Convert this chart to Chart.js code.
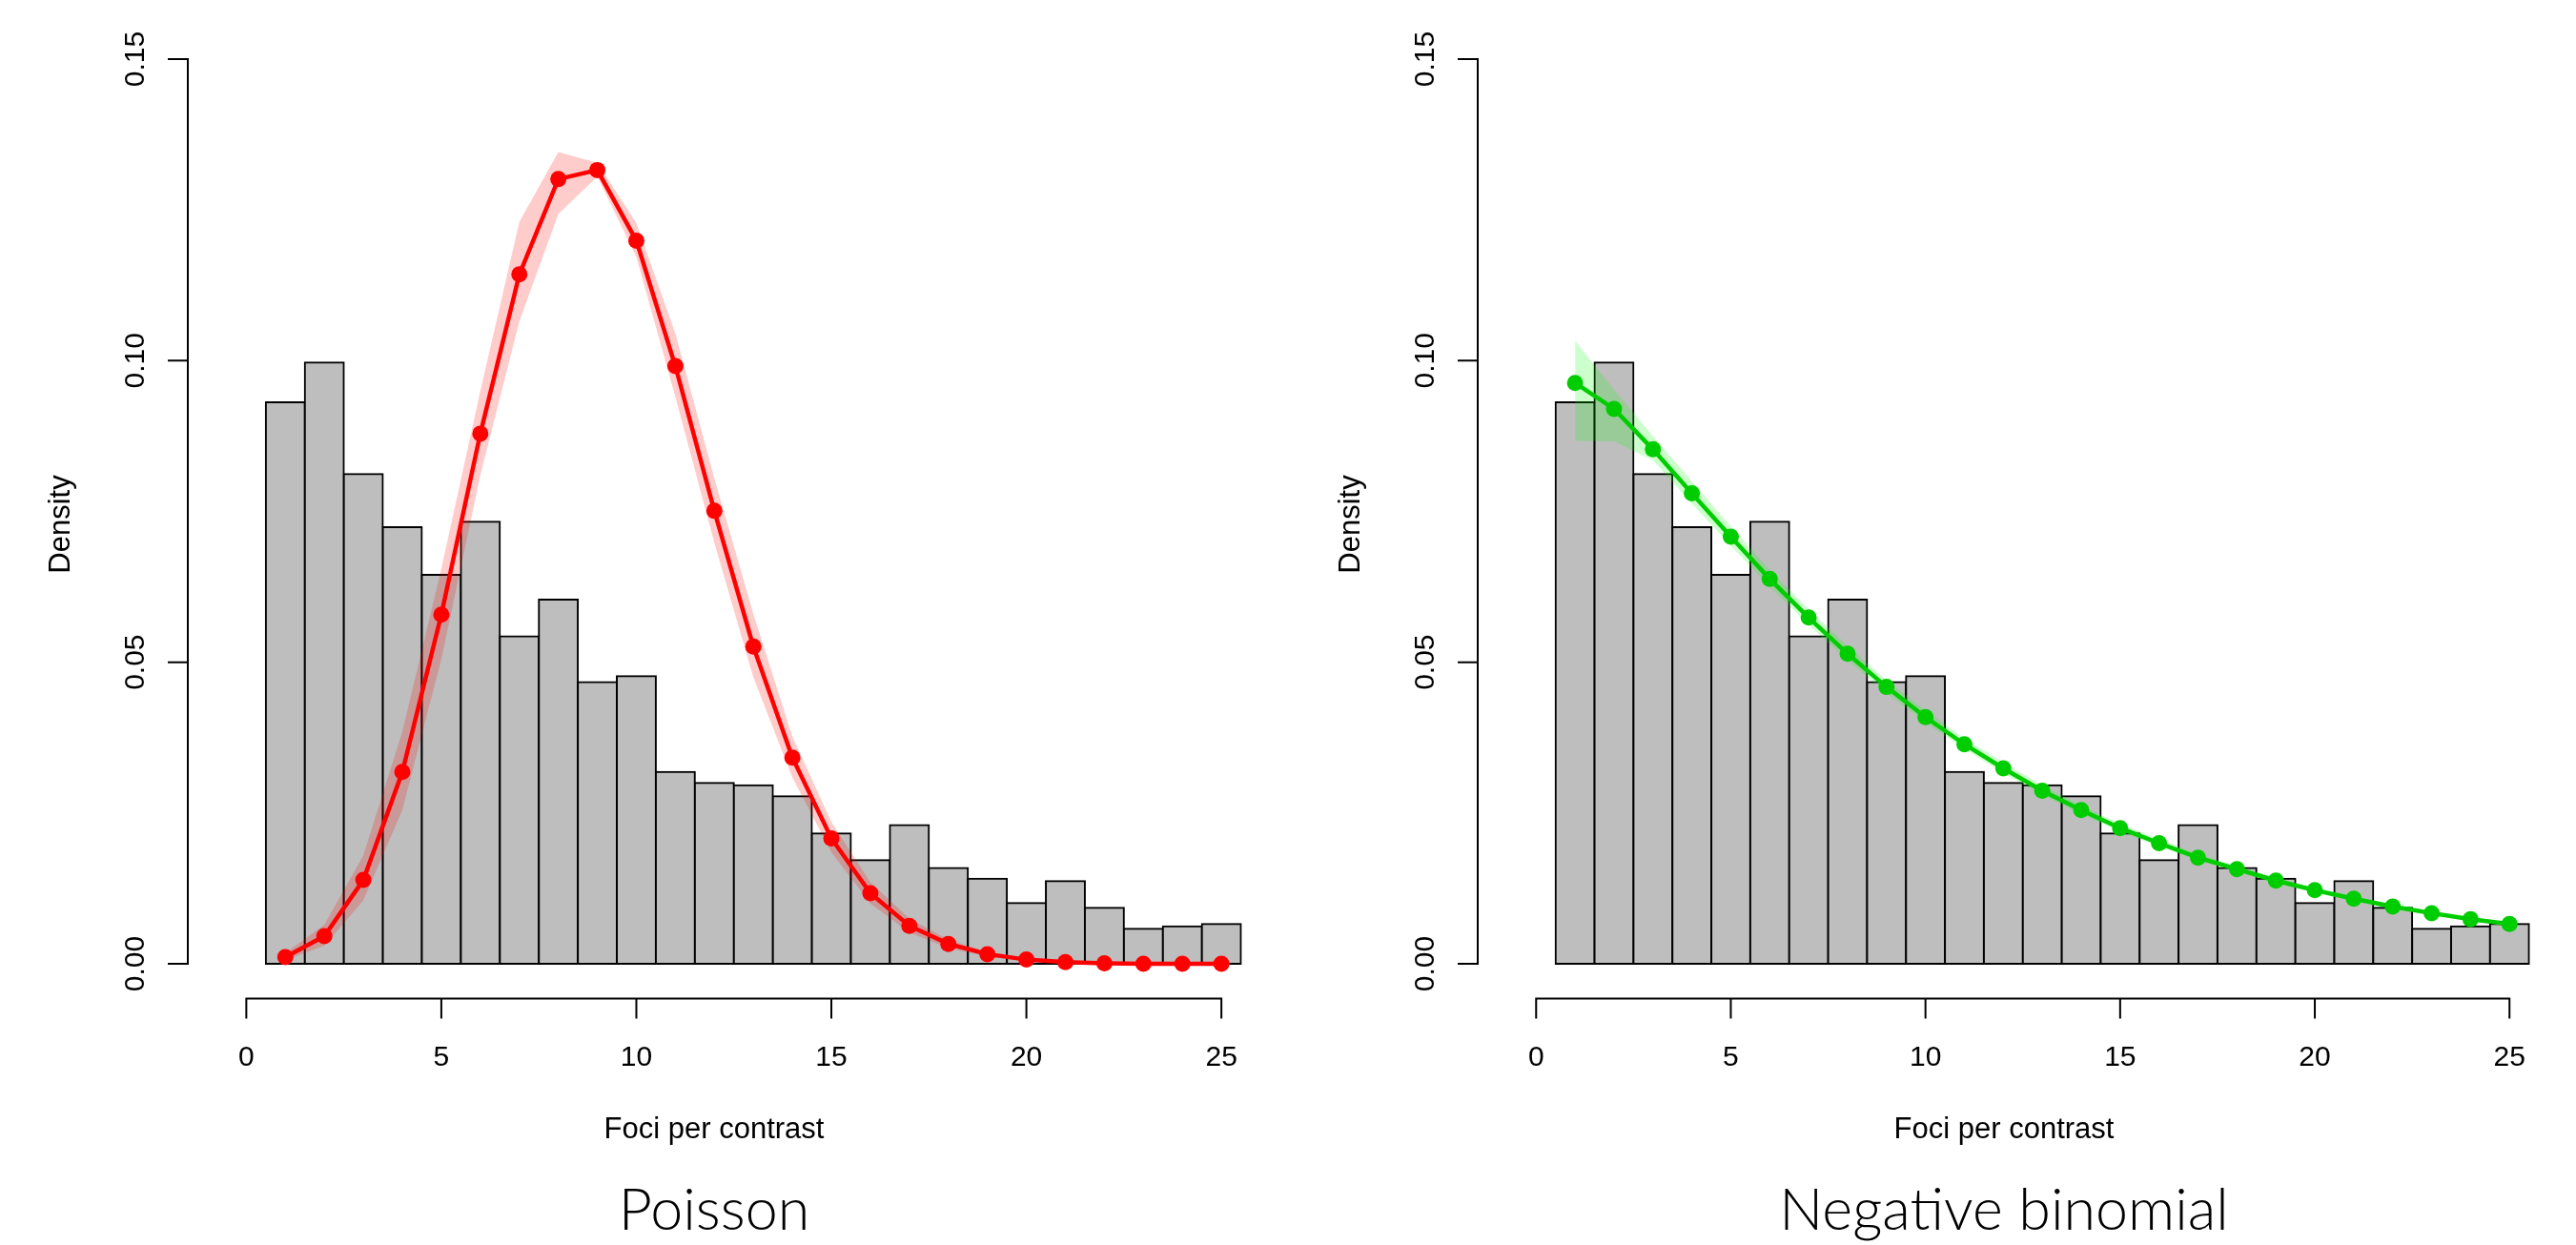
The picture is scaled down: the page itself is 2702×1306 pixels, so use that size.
<!DOCTYPE html>
<html>
<head>
<meta charset="utf-8">
<script src="https://cdn.jsdelivr.net/npm/chart.js@4.4.1/dist/chart.umd.min.js"></script>
<style>
  html, body { margin: 0; padding: 0; background: #fff; overflow: hidden; }
  #wrap { position: relative; width: 2702px; height: 1306px; }
  canvas { position: absolute; top: 0; }
</style>
</head>
<body>
<div id="wrap">
  <canvas id="poissonChart" width="1351" height="1306" style="left:0"></canvas>
  <canvas id="negbinChart" width="1351" height="1306" style="left:1351px"></canvas>
</div>
<script>
// foci per contrast (bins centred on integers)
const foci = [1, 2, 3, 4, 5, 6, 7, 8, 9, 10, 11, 12, 13, 14, 15, 16, 17, 18, 19, 20, 21, 22, 23, 24, 25];

// observed histogram (density)
const histDensity = [0.0931, 0.0997, 0.0812, 0.0724, 0.0645, 0.0733, 0.0543, 0.0604, 0.0467, 0.0477,
  0.0318, 0.0300, 0.0296, 0.0278, 0.0216, 0.0172, 0.0230, 0.0159, 0.0141, 0.0101,
  0.0137, 0.0093, 0.0058, 0.0062, 0.0066];

// Poisson fit + band
const poissonFit = [0.0011, 0.0046, 0.0139, 0.0318, 0.0579, 0.0879, 0.1143, 0.1301, 0.1316, 0.1199,
  0.0991, 0.0751, 0.0526, 0.0342, 0.0208, 0.0117, 0.0063, 0.0033, 0.0016, 0.0007,
  0.0003, 0.0001, 0.0000, 0.0000, 0.0000];
const poissonUpper = [0.0018, 0.0065, 0.0180, 0.0385, 0.0655, 0.0950, 0.1230, 0.1346, 0.1328, 0.1228,
  0.1045, 0.0805, 0.0580, 0.0377, 0.0235, 0.0135, 0.0075, 0.0040, 0.0020, 0.0009,
  0.0004, 0.0002, 0.0001, 0.0000, 0.0000];
const poissonLower = [0.0006, 0.0030, 0.0105, 0.0255, 0.0505, 0.0810, 0.1065, 0.1243, 0.1305, 0.1172,
  0.0940, 0.0698, 0.0475, 0.0309, 0.0185, 0.0100, 0.0052, 0.0026, 0.0012, 0.0005,
  0.0002, 0.0000, 0.0000, 0.0000, 0.0000];

// Negative binomial fit + band
const negbinFit = [0.0963, 0.0920, 0.0853, 0.0780, 0.0708, 0.0638, 0.0574, 0.0514, 0.0459, 0.0409,
  0.0364, 0.0324, 0.0287, 0.0255, 0.0225, 0.0200, 0.0176, 0.0157, 0.0138, 0.0122,
  0.0108, 0.0095, 0.0084, 0.0074, 0.0066];
const negbinUpper = [0.1033, 0.0952, 0.0875, 0.0800, 0.0725, 0.0653, 0.0588, 0.0527, 0.0470, 0.0420,
  0.0374, 0.0334, 0.0296, 0.0263, 0.0232, 0.0207, 0.0182, 0.0163, 0.0143, 0.0127,
  0.0112, 0.0099, 0.0088, 0.0078, 0.0069];
const negbinLower = [0.0867, 0.0866, 0.0835, 0.0763, 0.0693, 0.0625, 0.0562, 0.0503, 0.0449, 0.0400,
  0.0356, 0.0316, 0.0280, 0.0248, 0.0219, 0.0194, 0.0171, 0.0152, 0.0133, 0.0118,
  0.0104, 0.0091, 0.0080, 0.0071, 0.0063];

// axes
const xTicks = [0, 5, 10, 15, 20, 25];
const yTicks = [0, 0.05, 0.10, 0.15];
const yTickLabels = ['0.00', '0.05', '0.10', '0.15'];
const xLabel = 'Foci per contrast';
const yLabel = 'Density';

const pts = vals => foci.map((f, i) => ({ x: f, y: vals[i] }));

// R style axes, labels and caption under the plot
const rAxes = {
  id: 'rAxes',
  afterDraw(chart, args, opts) {
    const ctx = chart.ctx;
    const xs = chart.scales.x, ys = chart.scales.y;
    const area = chart.chartArea;
    const axisY = area.bottom - 1.5;
    ctx.save();
    ctx.strokeStyle = '#000';
    ctx.lineWidth = 2;
    ctx.lineCap = 'square';
    ctx.beginPath();
    ctx.moveTo(area.left, ys.getPixelForValue(yTicks[yTicks.length - 1]));
    ctx.lineTo(area.left, ys.getPixelForValue(yTicks[0]));
    yTicks.forEach(v => {
      const p = ys.getPixelForValue(v);
      ctx.moveTo(area.left - 20, p);
      ctx.lineTo(area.left, p);
    });
    ctx.moveTo(xs.getPixelForValue(xTicks[0]), axisY);
    ctx.lineTo(xs.getPixelForValue(xTicks[xTicks.length - 1]), axisY);
    xTicks.forEach(v => {
      const p = xs.getPixelForValue(v);
      ctx.moveTo(p, axisY);
      ctx.lineTo(p, axisY + 20);
    });
    ctx.stroke();

    ctx.fillStyle = '#000';
    ctx.textAlign = 'center';
    ctx.textBaseline = 'alphabetic';
    ctx.font = '30px "Liberation Sans", Arial, sans-serif';
    xTicks.forEach(v => ctx.fillText(String(v), xs.getPixelForValue(v), axisY + 70));
    yTicks.forEach((v, i) => {
      ctx.save();
      ctx.translate(area.left - 46, ys.getPixelForValue(v));
      ctx.rotate(-Math.PI / 2);
      ctx.fillText(yTickLabels[i], 0, 0);
      ctx.restore();
    });

    ctx.font = '31px "Liberation Sans", Arial, sans-serif';
    ctx.save();
    ctx.translate(area.left - 124, 550);
    ctx.rotate(-Math.PI / 2);
    ctx.fillText(yLabel, 0, 0);
    ctx.restore();
    ctx.fillText(xLabel, opts.centerX, axisY + 146);

    ctx.font = '300 61px Lato, "Noto Sans", sans-serif';
    ctx.fillText(opts.caption, opts.centerX, 1290);
    ctx.restore();
  }
};

function makeChart(id, fit, upper, lower, color, band, caption, padLeft, centerX) {
  return new Chart(document.getElementById(id), {
    type: 'bar',
    data: {
      datasets: [
        {
          type: 'bar',
          data: pts(histDensity),
          backgroundColor: '#BEBEBE',
          borderColor: '#000',
          borderWidth: 2,
          borderSkipped: false,
          inflateAmount: 1,
          barPercentage: 1,
          categoryPercentage: 1,
          order: 4
        },
        {
          type: 'line',
          data: pts(upper),
          borderColor: 'rgba(0,0,0,0)',
          borderWidth: 0,
          pointRadius: 0,
          fill: false,
          order: 3
        },
        {
          type: 'line',
          data: pts(lower),
          borderColor: 'rgba(0,0,0,0)',
          borderWidth: 0,
          pointRadius: 0,
          backgroundColor: band,
          fill: '-1',
          order: 2
        },
        {
          type: 'line',
          data: pts(fit),
          borderColor: color,
          borderWidth: 4.5,
          pointRadius: 8.5,
          pointBackgroundColor: color,
          pointBorderWidth: 0,
          tension: 0,
          fill: false,
          order: 1
        }
      ]
    },
    options: {
      responsive: false,
      animation: false,
      events: [],
      layout: { padding: { left: padLeft, right: 1351 - padLeft - 1147, top: 24, bottom: 257 } },
      scales: {
        x: { type: 'linear', display: false, offset: false, min: -1.5, max: 26.5,
             ticks: { stepSize: 5, includeBounds: false } },
        y: { type: 'linear', display: false, min: -0.006, max: 0.156 }
      },
      plugins: {
        legend: { display: false },
        tooltip: { enabled: false },
        rAxes: { caption: caption, centerX: centerX }
      }
    },
    plugins: [rAxes]
  });
}

//Poisson
makeChart('poissonChart', poissonFit, poissonUpper, poissonLower,
  '#FF0000', 'rgba(255,0,0,0.2)', 'Poisson', 197, 749);

//Negative binomial
makeChart('negbinChart', negbinFit, negbinUpper, negbinLower,
  '#00CD00', 'rgba(0,255,0,0.2)', 'Negative binomial', 199, 751);
</script>
</body>
</html>
